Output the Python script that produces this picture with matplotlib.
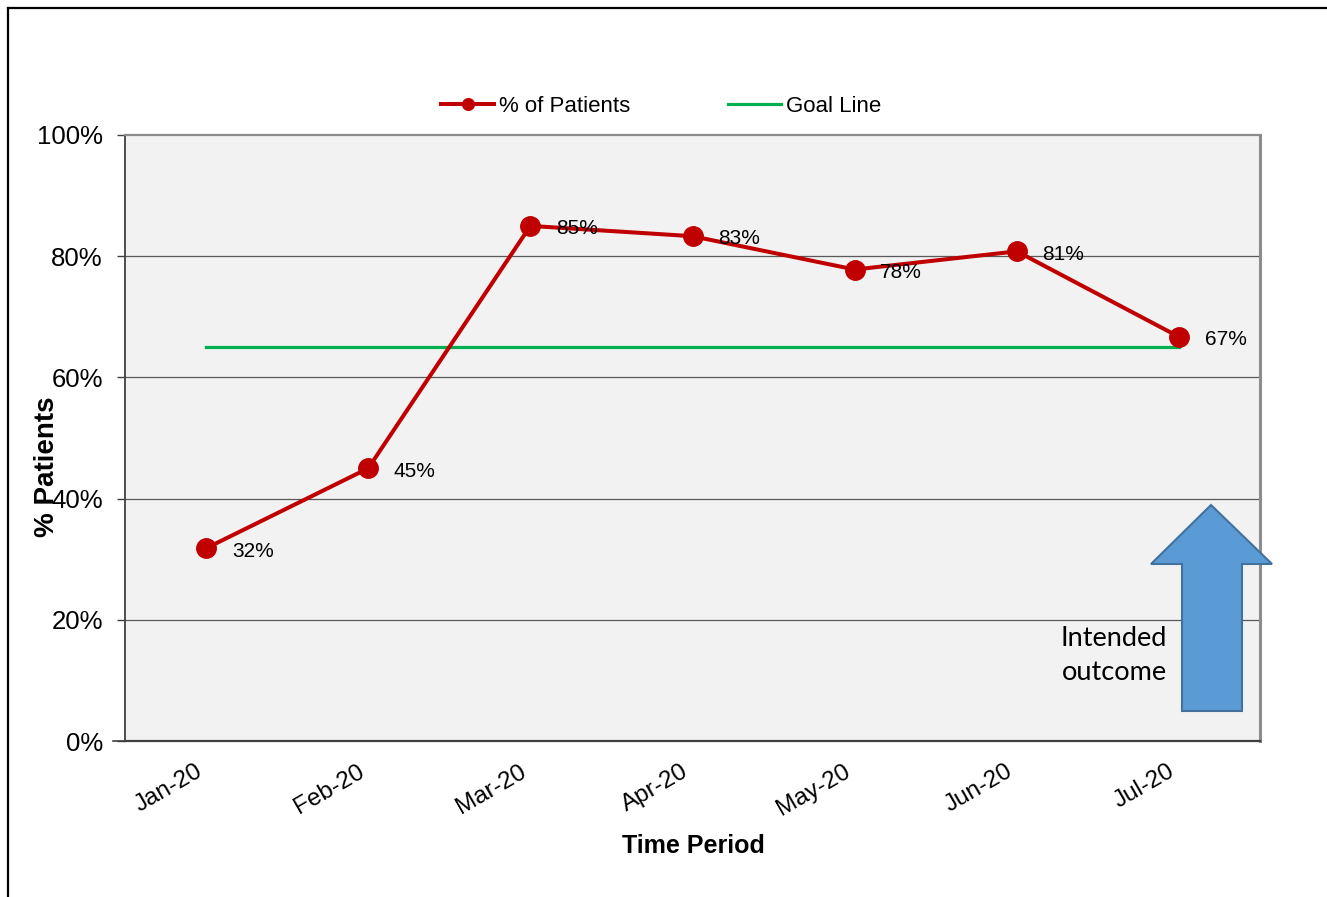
import matplotlib
matplotlib.use("Agg")
import matplotlib.pyplot as plt
import matplotlib.transforms as mtransforms
from matplotlib.lines import Line2D
from matplotlib.patches import Polygon
from matplotlib.ticker import FuncFormatter

plt.rcParams['font.family'] = ['Liberation Sans', 'DejaVu Sans']

# ---- data ----
months = ["Jan-20", "Feb-20", "Mar-20", "Apr-20", "May-20", "Jun-20", "Jul-20"]
pct_patients = [0.318, 0.450, 0.850, 0.833, 0.778, 0.808, 0.667]
data_labels = ["32%", "45%", "85%", "83%", "78%", "81%", "67%"]
goal = [0.65] * 7
y_ticks = [0, 0.2, 0.4, 0.6, 0.8, 1.0]

W, H = 1327, 897
fig = plt.figure(figsize=(W / 100, H / 100), dpi=100)
fig.patch.set_facecolor("white")

def fx(px):
    return px / W

def fy(py):
    return 1 - py / H

# outer chart border (clipped on right and bottom as in reference)
fig.add_artist(Line2D([fx(8), fx(8)], [fy(8), 0], color="black", lw=1.6, transform=fig.transFigure))
fig.add_artist(Line2D([fx(8), 1], [fy(8), fy(8)], color="black", lw=1.6, transform=fig.transFigure))

ax = fig.add_axes([fx(125), fy(741), (1260 - 125) / W, (741 - 135) / H])
ax.set_facecolor("#F2F2F2")
x = list(range(len(months)))

ax.plot(x, goal, color="#00B050", lw=2.3, label="Goal Line", zorder=3)
ax.plot(x, pct_patients, color="#C00000", lw=2.9, marker="o", markersize=14,
        label="% of Patients", zorder=4)

for xi, yi, lab in zip(x, pct_patients, data_labels):
    ax.annotate(lab, (xi, yi), xytext=(18.5, -2), textcoords="offset points",
                ha="left", va="center", fontsize=15, color="black", zorder=5)

ax.set_xlim(-0.5, 6.5)
ax.set_ylim(0, 1.0)
ax.set_yticks(y_ticks)
ax.yaxis.set_major_formatter(FuncFormatter(lambda v, p: f"{v*100:.0f}%"))
ax.set_xticks(x)
ax.set_xticklabels(months, rotation=30, ha="right", fontsize=17.5)
shift = mtransforms.ScaledTranslation(5 / 100, 0, fig.dpi_scale_trans)
for t in ax.get_xticklabels():
    t.set_transform(t.get_transform() + shift)
ax.tick_params(axis="x", length=0, pad=14)
ax.tick_params(axis="y", length=6, width=1, color="#404040", labelsize=18.5, pad=10)

for v in y_ticks[1:-1]:
    ax.axhline(v, color="#595959", lw=0.9, zorder=1)

ax.spines["left"].set_color("#404040")
ax.spines["left"].set_linewidth(1.3)
ax.spines["bottom"].set_color("#404040")
ax.spines["bottom"].set_linewidth(1.6)
ax.spines["top"].set_color("#8C8C8C")
ax.spines["top"].set_linewidth(1.6)
ax.spines["right"].set_color("#8C8C8C")
ax.spines["right"].set_linewidth(2.2)

# bottom axis line extends left like the tick marks
fig.add_artist(Line2D([fx(113), fx(125)], [fy(741), fy(741)], color="#404040", lw=1.2,
                      transform=fig.transFigure))

# axis titles
fig.text(fx(47), fy(467), "% Patients", rotation=90, ha="center", va="center",
         fontsize=20, fontweight="bold")
fig.text(fx(693), fy(846), "Time Period", ha="center", va="center",
         fontsize=18, fontweight="bold")

# legend
handles, labels = ax.get_legend_handles_labels()
order = [1, 0]
leg = fig.legend([handles[i] for i in order], [labels[i] for i in order],
                 loc="center", bbox_to_anchor=(fx(661), fy(106)), ncol=2, frameon=False,
                 fontsize=16, handlelength=2.4, handletextpad=0.2, columnspacing=4.4,
                 markerscale=0.6)

# block arrow "Intended outcome"
arrow_px = [(1211, 505), (1272, 564), (1242, 564), (1242, 711), (1182, 711),
            (1182, 564), (1151, 564)]
arrow = Polygon([(fx(px), fy(py)) for px, py in arrow_px], closed=True,
                facecolor="#5B9BD5", edgecolor="#41719C", lw=1.5,
                transform=fig.transFigure, zorder=6)
fig.add_artist(arrow)
fig.text(fx(1114), fy(655), "Intended\noutcome", ha="center", va="center",
         fontsize=19.5, family=["Lato", "DejaVu Sans"], linespacing=1.45, zorder=7)

fig.savefig("out.png", dpi=100)
